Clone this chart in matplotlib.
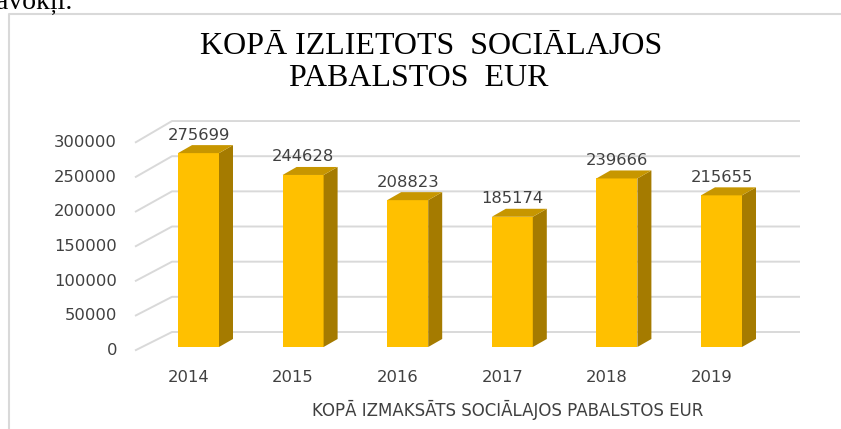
import matplotlib.pyplot as plt
from matplotlib.patches import Polygon

# data
years = ['2014', '2015', '2016', '2017', '2018', '2019']
totals = [275699, 244628, 208823, 185174, 239666, 215655]
ticks = [0, 50000, 100000, 150000, 200000, 250000, 300000]

title_1 = 'KOPĀ IZLIETOTS  SOCIĀLAJOS'
title_2 = 'PABALSTOS  EUR'
x_title = 'KOPĀ IZMAKSĀTS SOCIĀLAJOS PABALSTOS EUR'

W, H = 841, 429
fig = plt.figure(figsize=(W / 100, H / 100), dpi=100)


def fpx(x, y):
    # pixel position (from top left) -> figure fraction
    return x / W, 1 - y / H


# layout of the fake 3d plot, in pixels
x0_px, step_px = 198.5, 104.6
y0_px, val_per_px = 347, 1422
ax_l, ax_r, ax_t, ax_b = 40, 815, 100, 395

ax = fig.add_axes([ax_l / W, 1 - ax_b / H, (ax_r - ax_l) / W, (ax_b - ax_t) / H])
ax.set_xlim((ax_l - x0_px) / step_px, (ax_r - x0_px) / step_px)
ax.set_ylim((y0_px - ax_b) * val_per_px, (y0_px - ax_t) * val_per_px)
ax.axis('off')

bar_w = 41 / step_px
dep_x, dep_y = 14 / step_px, 8 * val_per_px
wall_x0 = (135 - x0_px) / step_px
wall_x1 = (172 - x0_px) / step_px
wall_x2 = (800 - x0_px) / step_px
wall_dy = 15 * val_per_px

txt = '#404040'
num_font = dict(family='DejaVu Sans', size=11.8, color=txt)

# gridlines: side wall diagonal + back wall
for t in ticks:
    y_side = t * 0.985 - 5000
    ax.plot([wall_x0, wall_x1, wall_x2], [y_side, t + wall_dy, t + wall_dy],
            color='#D9D9D9', lw=1.4, zorder=1, solid_capstyle='butt')
    ax.text(wall_x0 - 18 / step_px, y_side, str(t), ha='right', va='center', **num_font)

# bars
for i, v in enumerate(totals):
    ax.bar(i, v, width=bar_w, color='#FFC000', zorder=3)
    xl, xr = i - bar_w / 2, i + bar_w / 2
    side = Polygon([(xr, 0), (xr + dep_x, dep_y), (xr + dep_x, v + dep_y), (xr, v)],
                   closed=True, facecolor='#A57B00', edgecolor='none', zorder=3)
    top = Polygon([(xl, v), (xr, v), (xr + dep_x, v + dep_y), (xl + dep_x, v + dep_y)],
                  closed=True, facecolor='#C79600', edgecolor='none', zorder=3)
    ax.add_patch(side)
    ax.add_patch(top)
    ax.text(i, v + dep_y + 10 * val_per_px, f'{v}', ha='center', va='center', **num_font)
    ax.text(i - 10 / step_px, (y0_px - 377) * val_per_px, years[i],
            ha='center', va='center', **num_font)

# titles
fig.text(*fpx(431, 47), title_1, ha='center', va='center',
         family='Liberation Serif', size=23, color='black')
fig.text(*fpx(419, 79), title_2, ha='center', va='center',
         family='Liberation Serif', size=23, color='black')
fig.text(*fpx(508, 410), x_title, ha='center', va='center',
         family='DejaVu Sans', size=12, color=txt)

# cut-off text from the page above
fig.text(*fpx(-4, 8), 'avokļi.', ha='left', va='baseline',
         family='Liberation Serif', size=20, color='black')

# chart frame (only top and left edges visible)
fig.add_artist(plt.Line2D([8.5 / W, 8.5 / W, 1], [0, 1 - 14 / H, 1 - 14 / H],
                          color='#D9D9D9', lw=1.5))

fig.savefig('out.png', dpi=100)
